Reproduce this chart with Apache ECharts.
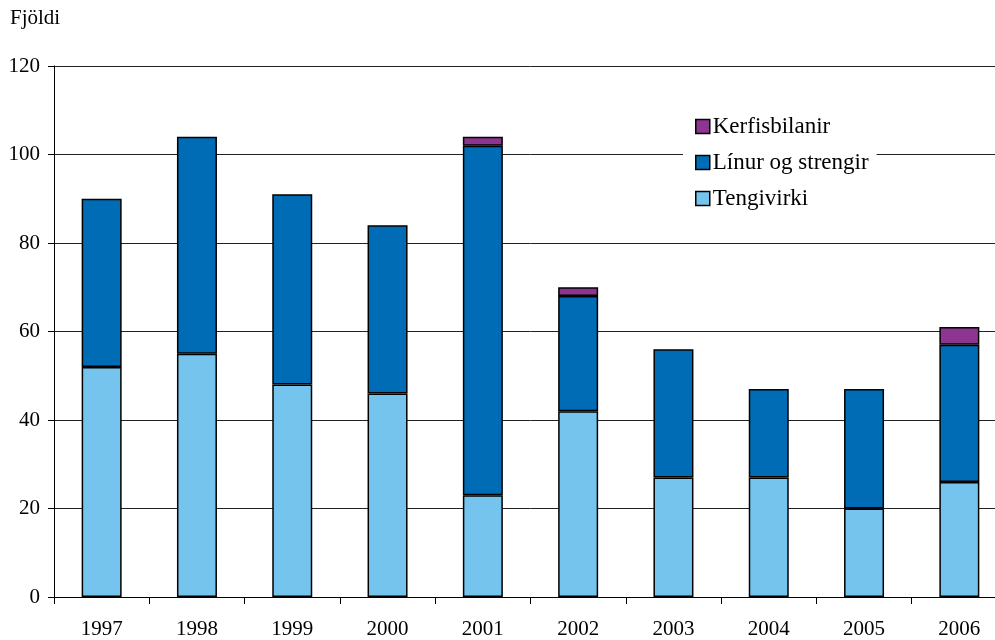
<!DOCTYPE html>
<html>
<head>
<meta charset="utf-8">
<title>Fjöldi</title>
<script src="https://cdn.jsdelivr.net/npm/echarts@6/dist/echarts.min.js"></script>
<style>
  html, body { margin: 0; padding: 0; background: #fff; overflow: hidden; }
  /* plot runs a little past the right edge of the picture */
  #refChart { width: 1007px; height: 640px; }
</style>
</head>
<body>
<div id="refChart"></div>
<script>
// ár (x-ás)
const years = ['1997', '1998', '1999', '2000', '2001', '2002', '2003', '2004', '2005', '2006'];
// gildi hverrar raðar
const tengivirki = [52, 55, 48, 46, 23, 42, 27, 27, 20, 26];
const linur = [38, 49, 43, 38, 79, 26, 29, 20, 27, 31];
const kerfisbilanir = [null, null, null, null, 2, 2, null, null, null, 4];
// y-ás
const yTicks = [0, 20, 40, 60, 80, 100, 120];

const serif = 'Liberation Serif';

const chartInstance = echarts.init(document.getElementById('refChart'));

const initOption = {
  animation: false,
  textStyle: { fontFamily: serif, color: '#000' },
  graphic: [
    {
      type: 'text',
      left: 10,
      top: 8,
      style: { text: 'Fjöldi', font: '21px ' + serif, fill: '#000' }
    }
  ],
  legend: {
    orient: 'vertical',
    left: 683,
    top: 105,
    padding: [10, 8, 10, 12],
    backgroundColor: '#fff',
    itemWidth: 14,
    itemHeight: 14,
    itemGap: 13,
    icon: 'rect',
    data: ['Kerfisbilanir', 'Línur og strengir', 'Tengivirki'],
    textStyle: { fontFamily: serif, fontSize: 23, color: '#000', padding: [0, 0, 0, -2] },
    itemStyle: { borderColor: '#000', borderWidth: 1.5 }
  },
  grid: {
    top: 66,
    left: 54,
    right: 0,
    bottom: 43
  },
  xAxis: {
    type: 'category',
    data: years,
    axisLine: { lineStyle: { color: '#000', width: 1 } },
    axisTick: { show: true, length: 7, lineStyle: { color: '#000' } },
    axisLabel: { fontFamily: serif, fontSize: 21, color: '#000', margin: 22 }
  },
  yAxis: {
    type: 'value',
    min: yTicks[0],
    max: yTicks[yTicks.length - 1],
    interval: 20,
    axisLine: { show: true, lineStyle: { color: '#000', width: 1 } },
    axisTick: { show: true, length: 6, lineStyle: { color: '#000' } },
    axisLabel: { fontFamily: serif, fontSize: 21, color: '#000', margin: 14 },
    splitLine: { lineStyle: { color: '#222', width: 1 } }
  },
  series: [
    {
      name: 'Tengivirki',
      type: 'bar',
      stack: 'total',
      barWidth: 40,
      data: tengivirki,
      itemStyle: { color: '#74C4EE', borderColor: '#000', borderWidth: 1.5 }
    },
    {
      name: 'Línur og strengir',
      type: 'bar',
      stack: 'total',
      barWidth: 40,
      data: linur,
      itemStyle: { color: '#006CB5', borderColor: '#000', borderWidth: 1.5 }
    },
    {
      name: 'Kerfisbilanir',
      type: 'bar',
      stack: 'total',
      barWidth: 40,
      data: kerfisbilanir,
      itemStyle: { color: '#8C3591', borderColor: '#000', borderWidth: 1.5 }
    }
  ]
};

// teikna
chartInstance.setOption(initOption);
</script>
</body>
</html>
